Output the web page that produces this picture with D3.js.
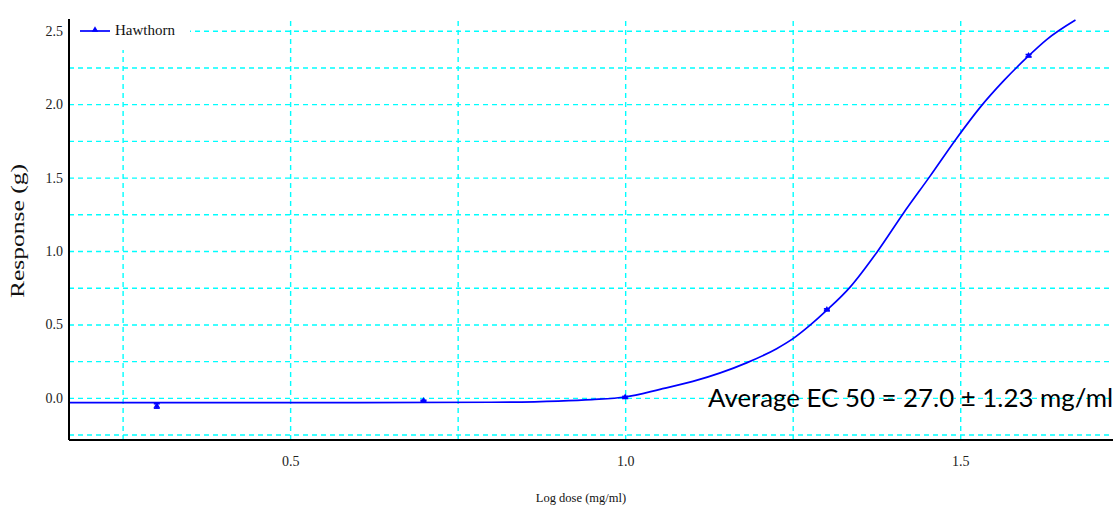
<!DOCTYPE html>
<html>
<head>
<meta charset="utf-8">
<script src="https://cdn.jsdelivr.net/npm/d3@7"></script>
<style>
  body { margin: 0; background: #fff; }
  svg { display: block; }
</style>
</head>
<body>
<div id="chart"></div>
<script>
const FRAME_WIDTH = 1116;
const FRAME_HEIGHT = 508;
const PLOT = {left: 69, right: 1113, top: 19, bottom: 440};

// measured points (log dose vs response)
const logDose = [0.301, 0.699, 1.0, 1.301, 1.602];
const response = [-0.055, -0.02, 0.004, 0.60, 2.33];
const responseErr = [0.015, 0.004, 0.006, 0.006, 0.008];

// fitted curve
const fitX = [0.17, 0.40, 0.60, 0.80, 0.90, 0.95, 1.0, 1.052, 1.101, 1.142, 1.182, 1.226, 1.251,
              1.276, 1.301, 1.336, 1.376, 1.415, 1.455, 1.495, 1.530, 1.565, 1.600, 1.629, 1.672];
const fitY = [-0.033, -0.033, -0.032, -0.03, -0.022, -0.012, 0.006, 0.058, 0.112, 0.17, 0.24, 0.335, 0.405,
              0.495, 0.597, 0.756, 0.994, 1.256, 1.51, 1.77, 1.98, 2.16, 2.32, 2.44, 2.573];

const xTicks = [0.5, 1.0, 1.5];
const yTicks = [0.0, 0.5, 1.0, 1.5, 2.0, 2.5];
const xGrid = [0.25, 0.5, 0.75, 1.0, 1.25, 1.5];
const yGrid = [-0.25, 0, 0.25, 0.5, 0.75, 1.0, 1.25, 1.5, 1.75, 2.0, 2.25, 2.5];

const seriesName = "Hawthorn";
const xTitle = "Log dose  (mg/ml)";
const yTitle = "Response (g)";
const note = "Average EC 50 = 27.0 \u00B1 1.23 mg/ml";

const SVG = d3.select("#chart")
  .append("svg")
    .attr("width", FRAME_WIDTH)
    .attr("height", FRAME_HEIGHT);

const X_SCALE = d3.scaleLinear()
  .domain([0.17, 1.728])
  .range([PLOT.left, PLOT.right]);

const Y_SCALE = d3.scaleLinear()
  .domain([-0.287, 2.58])
  .range([PLOT.bottom, PLOT.top]);

const GRID = "#00ffff";

// vertical grid
SVG.append("g")
  .attr("transform", "translate(0," + PLOT.bottom + ")")
  .call(d3.axisBottom(X_SCALE).tickValues(xGrid).tickFormat("").tickSize(-(PLOT.bottom - PLOT.top)))
  .call(g => g.select(".domain").remove())
  .call(g => g.selectAll(".tick line")
    .attr("stroke", GRID).attr("stroke-width", 1.4).attr("stroke-dasharray", "5,4"));

// horizontal grid
SVG.append("g")
  .attr("transform", "translate(" + PLOT.left + ",0)")
  .call(d3.axisLeft(Y_SCALE).tickValues(yGrid).tickFormat("").tickSize(-(PLOT.right - 3 - PLOT.left)))
  .call(g => g.select(".domain").remove())
  .call(g => g.selectAll(".tick line")
    .attr("stroke", GRID).attr("stroke-width", 1.4).attr("stroke-dasharray", "5,4"));

// fitted curve
SVG.append("path")
  .datum(fitX.map((x, i) => [x, fitY[i]]))
  .attr("fill", "none")
  .attr("stroke", "#0000ff")
  .attr("stroke-width", 1.7)
  .attr("d", d3.line()
    .x(d => X_SCALE(d[0]))
    .y(d => Y_SCALE(d[1]))
    .curve(d3.curveMonotoneX));

// error bars
const pts = logDose.map((x, i) => ({x: x, y: response[i], e: responseErr[i]}));
const eb = SVG.append("g").attr("stroke", "#0000ff").attr("stroke-width", 1.6);
pts.forEach(d => {
  const cx = X_SCALE(d.x);
  eb.append("line").attr("x1", cx).attr("x2", cx)
    .attr("y1", Y_SCALE(d.y + d.e)).attr("y2", Y_SCALE(d.y - d.e));
  eb.append("line").attr("x1", cx - 3).attr("x2", cx + 3)
    .attr("y1", Y_SCALE(d.y + d.e)).attr("y2", Y_SCALE(d.y + d.e));
  eb.append("line").attr("x1", cx - 3).attr("x2", cx + 3)
    .attr("y1", Y_SCALE(d.y - d.e)).attr("y2", Y_SCALE(d.y - d.e));
});

// markers
SVG.selectAll(".pt")
  .data(pts)
  .enter()
  .append("path")
    .attr("class", "pt")
    .attr("d", d3.symbol(d3.symbolTriangle).size(18))
    .attr("transform", d => "translate(" + X_SCALE(d.x) + "," + Y_SCALE(d.y) + ")")
    .attr("fill", "#0000ff");

// axes lines + labels
const yAxis = SVG.append("g")
  .attr("transform", "translate(" + PLOT.left + ",0)")
  .call(d3.axisLeft(Y_SCALE).tickValues(yTicks).tickFormat(d3.format(".1f")).tickSize(0).tickPadding(6));
yAxis.select(".domain").attr("stroke", "#000").attr("stroke-width", 2)
  .attr("d", "M0," + PLOT.top + "V" + PLOT.bottom);
yAxis.selectAll("text")
  .attr("font-family", "'Liberation Serif', serif")
  .attr("font-size", "14px")
  .attr("fill", "#222");

const xAxis = SVG.append("g")
  .attr("transform", "translate(0," + PLOT.bottom + ")")
  .call(d3.axisBottom(X_SCALE).tickValues(xTicks).tickFormat(d3.format(".1f")).tickSize(0).tickPadding(16));
xAxis.select(".domain").attr("stroke", "#000").attr("stroke-width", 2)
  .attr("d", "M" + PLOT.left + ",0H" + PLOT.right);
xAxis.selectAll("text")
  .attr("font-family", "'Liberation Serif', serif")
  .attr("font-size", "14px")
  .attr("fill", "#222");

// legend
const LEG = SVG.append("g");
LEG.append("rect")
  .attr("x", PLOT.left + 1).attr("y", PLOT.top).attr("width", 120).attr("height", 31)
  .attr("fill", "#fff");
LEG.append("line")
  .attr("x1", 80).attr("x2", 110).attr("y1", 31).attr("y2", 31)
  .attr("stroke", "#0000ff").attr("stroke-width", 1.7);
LEG.append("path")
  .attr("d", d3.symbol(d3.symbolTriangle).size(18))
  .attr("transform", "translate(95,30)")
  .attr("fill", "#0000ff");
LEG.append("text")
  .attr("x", 115).attr("y", 35)
  .attr("font-family", "'Liberation Serif', serif")
  .attr("font-size", "15px")
  .attr("fill", "#111")
  .text(seriesName);

// titles
SVG.append("text")
  .attr("transform", "translate(24,231) rotate(-90)")
  .attr("text-anchor", "middle")
  .attr("font-family", "'Liberation Serif', serif")
  .attr("font-size", "19px")
  .attr("textLength", 134)
  .attr("lengthAdjust", "spacingAndGlyphs")
  .attr("fill", "#111")
  .text(yTitle);

SVG.append("text")
  .attr("x", 581).attr("y", 502)
  .attr("text-anchor", "middle")
  .attr("font-family", "'Liberation Serif', serif")
  .attr("font-size", "12.5px")
  .attr("fill", "#111")
  .text(xTitle);

// EC50 note
SVG.append("text")
  .attr("x", 708).attr("y", 407)
  .attr("font-family", "Lato, 'Open Sans', sans-serif")
  .attr("font-size", "25px")
  .attr("textLength", 405)
  .attr("lengthAdjust", "spacingAndGlyphs")
  .attr("fill", "#000")
  .text(note);
</script>
</body>
</html>
